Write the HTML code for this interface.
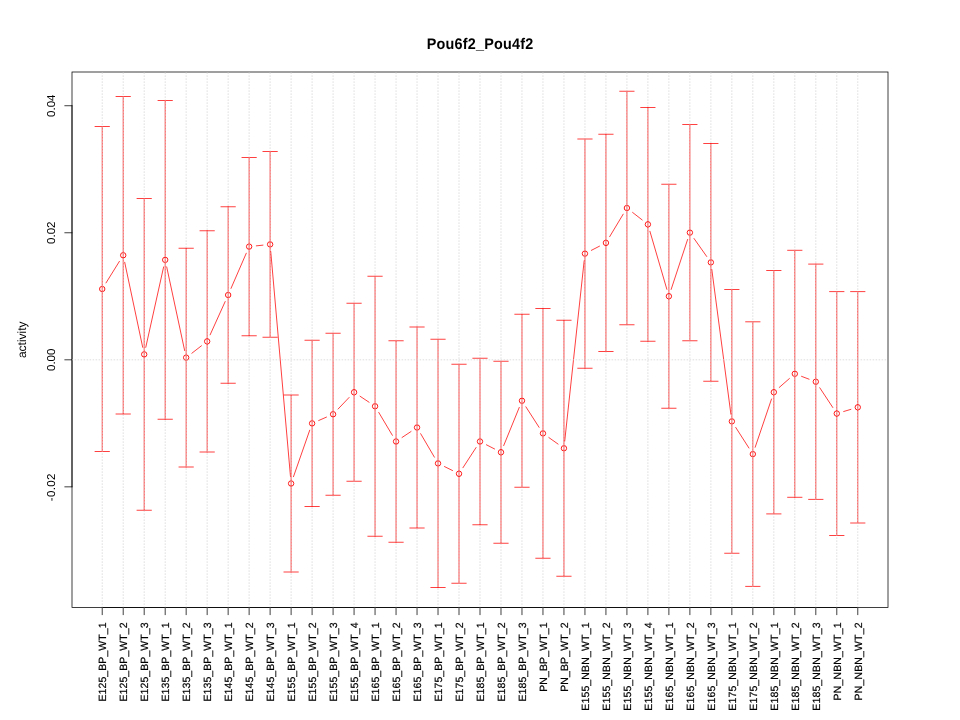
<!DOCTYPE html><html><head><meta charset="utf-8"><style>html,body{margin:0;padding:0;background:#fff;}svg{display:block;will-change:transform;}text{font-family:"Liberation Sans",sans-serif;text-rendering:geometricPrecision;}text.xl{stroke:#000;stroke-width:0.2px;}</style></head><body>
<svg width="960" height="720" viewBox="0 0 960 720">
<rect width="960" height="720" fill="#fff"/>
<path d="M102.22 126.5V451.5M95.02 126.5H109.42M95.02 451.5H109.42M123.21 96.5V414.0M116.01 96.5H130.41M116.01 414.0H130.41M144.20 198.5V510.25M137.00 198.5H151.40M137.00 510.25H151.40M165.19 100.5V419.25M157.99 100.5H172.39M157.99 419.25H172.39M186.17 248.25V467.0M178.97 248.25H193.37M178.97 467.0H193.37M207.16 230.75V452.0M199.96 230.75H214.36M199.96 452.0H214.36M228.15 206.75V383.25M220.95 206.75H235.35M220.95 383.25H235.35M249.14 157.5V335.75M241.94 157.5H256.34M241.94 335.75H256.34M270.12 151.5V337.25M262.92 151.5H277.32M262.92 337.25H277.32M291.11 395.0V572.0M283.91 395.0H298.31M283.91 572.0H298.31M312.10 340.25V506.5M304.90 340.25H319.30M304.90 506.5H319.30M333.09 333.25V495.25M325.89 333.25H340.29M325.89 495.25H340.29M354.07 303.25V481.25M346.87 303.25H361.27M346.87 481.25H361.27M375.06 276.25V536.25M367.86 276.25H382.26M367.86 536.25H382.26M396.05 340.75V542.25M388.85 340.75H403.25M388.85 542.25H403.25M417.04 327.0V528.0M409.84 327.0H424.24M409.84 528.0H424.24M438.02 339.25V587.5M430.82 339.25H445.22M430.82 587.5H445.22M459.01 364.25V583.25M451.81 364.25H466.21M451.81 583.25H466.21M480.00 358.25V524.75M472.80 358.25H487.20M472.80 524.75H487.20M500.99 361.25V543.25M493.79 361.25H508.19M493.79 543.25H508.19M521.98 314.25V487.25M514.78 314.25H529.18M514.78 487.25H529.18M542.96 308.5V558.25M535.76 308.5H550.16M535.76 558.25H550.16M563.95 320.25V576.25M556.75 320.25H571.15M556.75 576.25H571.15M584.94 139.0V368.25M577.74 139.0H592.14M577.74 368.25H592.14M605.93 134.25V351.5M598.73 134.25H613.13M598.73 351.5H613.13M626.91 91.25V324.75M619.71 91.25H634.11M619.71 324.75H634.11M647.90 107.5V341.25M640.70 107.5H655.10M640.70 341.25H655.10M668.89 184.25V408.25M661.69 184.25H676.09M661.69 408.25H676.09M689.88 124.5V340.75M682.68 124.5H697.08M682.68 340.75H697.08M710.86 143.5V381.25M703.66 143.5H718.06M703.66 381.25H718.06M731.85 289.5V553.25M724.65 289.5H739.05M724.65 553.25H739.05M752.84 321.8V586.4M745.64 321.8H760.04M745.64 586.4H760.04M773.83 270.5V513.9M766.63 270.5H781.03M766.63 513.9H781.03M794.81 250.3V497.3M787.61 250.3H802.01M787.61 497.3H802.01M815.80 264.1V499.4M808.60 264.1H823.00M808.60 499.4H823.00M836.79 291.6V535.5M829.59 291.6H843.99M829.59 535.5H843.99M857.78 291.6V523.0M850.58 291.6H864.98M850.58 523.0H864.98" stroke="#f00" stroke-width="0.75" fill="none" stroke-linecap="round"/>
<path d="M106.02 282.89L119.41 261.36M124.70 262.29L142.71 347.33M145.76 347.35L163.62 266.90M166.70 266.91L184.66 350.59M191.87 353.22L201.47 345.78M210.13 334.82L225.18 301.56M231.01 288.39L246.27 253.23M256.29 245.86L262.96 245.14M270.75 251.55L290.48 476.33M293.48 476.70L309.73 430.17M318.70 420.50L326.48 417.12M338.06 409.04L349.10 397.46M360.06 396.25L369.07 402.25M378.75 412.44L392.37 435.31M402.04 437.50L411.05 431.50M420.67 433.71L434.39 457.16M444.48 466.57L452.56 470.56M462.94 467.72L476.07 447.53M486.41 444.78L494.58 448.97M503.70 445.58L519.26 407.42M525.87 406.81L539.07 427.32M548.84 437.54L558.08 444.09M564.72 441.09L584.17 260.78M591.35 250.34L599.52 246.16M609.64 236.71L623.20 214.17M632.59 212.43L642.22 219.95M649.92 231.29L666.87 289.34M671.14 289.41L687.62 239.46M694.03 238.51L706.71 256.49M711.81 269.51L730.91 414.24M735.74 427.44L748.95 448.04M755.15 447.28L771.52 399.02M779.24 387.45L789.40 378.55M801.55 376.35L809.07 379.20M819.77 387.76L832.82 407.54M843.69 411.50L850.88 409.35" stroke="#f00" stroke-width="0.75" fill="none" stroke-linecap="round"/>
<g stroke="#f00" stroke-width="0.9" fill="none"><circle cx="102.22" cy="289.00" r="2.7"/><circle cx="123.21" cy="255.25" r="2.7"/><circle cx="144.20" cy="354.38" r="2.7"/><circle cx="165.19" cy="259.88" r="2.7"/><circle cx="186.17" cy="357.62" r="2.7"/><circle cx="207.16" cy="341.38" r="2.7"/><circle cx="228.15" cy="295.00" r="2.7"/><circle cx="249.14" cy="246.62" r="2.7"/><circle cx="270.12" cy="244.38" r="2.7"/><circle cx="291.11" cy="483.50" r="2.7"/><circle cx="312.10" cy="423.38" r="2.7"/><circle cx="333.09" cy="414.25" r="2.7"/><circle cx="354.07" cy="392.25" r="2.7"/><circle cx="375.06" cy="406.25" r="2.7"/><circle cx="396.05" cy="441.50" r="2.7"/><circle cx="417.04" cy="427.50" r="2.7"/><circle cx="438.02" cy="463.38" r="2.7"/><circle cx="459.01" cy="473.75" r="2.7"/><circle cx="480.00" cy="441.50" r="2.7"/><circle cx="500.99" cy="452.25" r="2.7"/><circle cx="521.98" cy="400.75" r="2.7"/><circle cx="542.96" cy="433.38" r="2.7"/><circle cx="563.95" cy="448.25" r="2.7"/><circle cx="584.94" cy="253.62" r="2.7"/><circle cx="605.93" cy="242.88" r="2.7"/><circle cx="626.91" cy="208.00" r="2.7"/><circle cx="647.90" cy="224.38" r="2.7"/><circle cx="668.89" cy="296.25" r="2.7"/><circle cx="689.88" cy="232.62" r="2.7"/><circle cx="710.86" cy="262.38" r="2.7"/><circle cx="731.85" cy="421.38" r="2.7"/><circle cx="752.84" cy="454.10" r="2.7"/><circle cx="773.83" cy="392.20" r="2.7"/><circle cx="794.81" cy="373.80" r="2.7"/><circle cx="815.80" cy="381.75" r="2.7"/><circle cx="836.79" cy="413.55" r="2.7"/><circle cx="857.78" cy="407.30" r="2.7"/></g>
<rect x="72.0" y="72.0" width="816.0" height="535.5" stroke="#000" stroke-width="0.75" fill="none"/>
<path d="M72.0 105.72V486.84M72.0 105.72H64.8M72.0 232.76H64.8M72.0 359.80H64.8M72.0 486.84H64.8M102.22 607.5H857.78M102.22 607.5V614.7M123.21 607.5V614.7M144.20 607.5V614.7M165.19 607.5V614.7M186.17 607.5V614.7M207.16 607.5V614.7M228.15 607.5V614.7M249.14 607.5V614.7M270.12 607.5V614.7M291.11 607.5V614.7M312.10 607.5V614.7M333.09 607.5V614.7M354.07 607.5V614.7M375.06 607.5V614.7M396.05 607.5V614.7M417.04 607.5V614.7M438.02 607.5V614.7M459.01 607.5V614.7M480.00 607.5V614.7M500.99 607.5V614.7M521.98 607.5V614.7M542.96 607.5V614.7M563.95 607.5V614.7M584.94 607.5V614.7M605.93 607.5V614.7M626.91 607.5V614.7M647.90 607.5V614.7M668.89 607.5V614.7M689.88 607.5V614.7M710.86 607.5V614.7M731.85 607.5V614.7M752.84 607.5V614.7M773.83 607.5V614.7M794.81 607.5V614.7M815.80 607.5V614.7M836.79 607.5V614.7M857.78 607.5V614.7" stroke="#000" stroke-width="0.75" fill="none" stroke-linecap="round"/>
<defs><clipPath id="pr"><rect x="72.0" y="72.0" width="816.0" height="535.5"/></clipPath></defs>
<g clip-path="url(#pr)">
<path d="M102.22 607.5V72.0M123.21 607.5V72.0M144.20 607.5V72.0M165.19 607.5V72.0M186.17 607.5V72.0M207.16 607.5V72.0M228.15 607.5V72.0M249.14 607.5V72.0M270.12 607.5V72.0M291.11 607.5V72.0M312.10 607.5V72.0M333.09 607.5V72.0M354.07 607.5V72.0M375.06 607.5V72.0M396.05 607.5V72.0M417.04 607.5V72.0M438.02 607.5V72.0M459.01 607.5V72.0M480.00 607.5V72.0M500.99 607.5V72.0M521.98 607.5V72.0M542.96 607.5V72.0M563.95 607.5V72.0M584.94 607.5V72.0M605.93 607.5V72.0M626.91 607.5V72.0M647.90 607.5V72.0M668.89 607.5V72.0M689.88 607.5V72.0M710.86 607.5V72.0M731.85 607.5V72.0M752.84 607.5V72.0M773.83 607.5V72.0M794.81 607.5V72.0M815.80 607.5V72.0M836.79 607.5V72.0M857.78 607.5V72.0" stroke="#d3d3d3" stroke-width="0.75" stroke-dasharray="0.75 2.25" stroke-linecap="round" fill="none"/>
<path d="M72.0 359.80H888.0" stroke="#d3d3d3" stroke-width="0.75" stroke-dasharray="0.75 2.25" stroke-linecap="round" fill="none"/>
</g>
<text transform="translate(54.72,105.72) rotate(-90)" text-anchor="middle" font-size="11.5">0.04</text>
<text transform="translate(54.72,232.76) rotate(-90)" text-anchor="middle" font-size="11.5">0.02</text>
<text transform="translate(54.72,359.80) rotate(-90)" text-anchor="middle" font-size="11.5">0.00</text>
<text transform="translate(54.72,487.44) rotate(-90)" text-anchor="middle" font-size="11.5" textLength="27.8">-0.02</text>
<text transform="translate(106.02,622.5) rotate(-90)" class="xl" text-anchor="end" font-size="10.5" textLength="78.97">E125_BP_WT_1</text>
<text transform="translate(127.01,622.5) rotate(-90)" class="xl" text-anchor="end" font-size="10.5" textLength="78.97">E125_BP_WT_2</text>
<text transform="translate(148.00,622.5) rotate(-90)" class="xl" text-anchor="end" font-size="10.5" textLength="78.97">E125_BP_WT_3</text>
<text transform="translate(168.99,622.5) rotate(-90)" class="xl" text-anchor="end" font-size="10.5" textLength="78.97">E135_BP_WT_1</text>
<text transform="translate(189.97,622.5) rotate(-90)" class="xl" text-anchor="end" font-size="10.5" textLength="78.97">E135_BP_WT_2</text>
<text transform="translate(210.96,622.5) rotate(-90)" class="xl" text-anchor="end" font-size="10.5" textLength="78.97">E135_BP_WT_3</text>
<text transform="translate(231.95,622.5) rotate(-90)" class="xl" text-anchor="end" font-size="10.5" textLength="78.97">E145_BP_WT_1</text>
<text transform="translate(252.94,622.5) rotate(-90)" class="xl" text-anchor="end" font-size="10.5" textLength="78.97">E145_BP_WT_2</text>
<text transform="translate(273.92,622.5) rotate(-90)" class="xl" text-anchor="end" font-size="10.5" textLength="78.97">E145_BP_WT_3</text>
<text transform="translate(294.91,622.5) rotate(-90)" class="xl" text-anchor="end" font-size="10.5" textLength="78.97">E155_BP_WT_1</text>
<text transform="translate(315.90,622.5) rotate(-90)" class="xl" text-anchor="end" font-size="10.5" textLength="78.97">E155_BP_WT_2</text>
<text transform="translate(336.89,622.5) rotate(-90)" class="xl" text-anchor="end" font-size="10.5" textLength="78.97">E155_BP_WT_3</text>
<text transform="translate(357.87,622.5) rotate(-90)" class="xl" text-anchor="end" font-size="10.5" textLength="78.97">E155_BP_WT_4</text>
<text transform="translate(378.86,622.5) rotate(-90)" class="xl" text-anchor="end" font-size="10.5" textLength="78.97">E165_BP_WT_1</text>
<text transform="translate(399.85,622.5) rotate(-90)" class="xl" text-anchor="end" font-size="10.5" textLength="78.97">E165_BP_WT_2</text>
<text transform="translate(420.84,622.5) rotate(-90)" class="xl" text-anchor="end" font-size="10.5" textLength="78.97">E165_BP_WT_3</text>
<text transform="translate(441.82,622.5) rotate(-90)" class="xl" text-anchor="end" font-size="10.5" textLength="78.97">E175_BP_WT_1</text>
<text transform="translate(462.81,622.5) rotate(-90)" class="xl" text-anchor="end" font-size="10.5" textLength="78.97">E175_BP_WT_2</text>
<text transform="translate(483.80,622.5) rotate(-90)" class="xl" text-anchor="end" font-size="10.5" textLength="78.97">E185_BP_WT_1</text>
<text transform="translate(504.79,622.5) rotate(-90)" class="xl" text-anchor="end" font-size="10.5" textLength="78.97">E185_BP_WT_2</text>
<text transform="translate(525.78,622.5) rotate(-90)" class="xl" text-anchor="end" font-size="10.5" textLength="78.97">E185_BP_WT_3</text>
<text transform="translate(546.76,622.5) rotate(-90)" class="xl" text-anchor="end" font-size="10.5" textLength="69.28">PN_BP_WT_1</text>
<text transform="translate(567.75,622.5) rotate(-90)" class="xl" text-anchor="end" font-size="10.5" textLength="69.28">PN_BP_WT_2</text>
<text transform="translate(588.74,622.5) rotate(-90)" class="xl" text-anchor="end" font-size="10.5" textLength="88.28">E155_NBN_WT_1</text>
<text transform="translate(609.73,622.5) rotate(-90)" class="xl" text-anchor="end" font-size="10.5" textLength="88.28">E155_NBN_WT_2</text>
<text transform="translate(630.71,622.5) rotate(-90)" class="xl" text-anchor="end" font-size="10.5" textLength="88.28">E155_NBN_WT_3</text>
<text transform="translate(651.70,622.5) rotate(-90)" class="xl" text-anchor="end" font-size="10.5" textLength="88.28">E155_NBN_WT_4</text>
<text transform="translate(672.69,622.5) rotate(-90)" class="xl" text-anchor="end" font-size="10.5" textLength="88.28">E165_NBN_WT_1</text>
<text transform="translate(693.68,622.5) rotate(-90)" class="xl" text-anchor="end" font-size="10.5" textLength="88.28">E165_NBN_WT_2</text>
<text transform="translate(714.66,622.5) rotate(-90)" class="xl" text-anchor="end" font-size="10.5" textLength="88.28">E165_NBN_WT_3</text>
<text transform="translate(735.65,622.5) rotate(-90)" class="xl" text-anchor="end" font-size="10.5" textLength="88.28">E175_NBN_WT_1</text>
<text transform="translate(756.64,622.5) rotate(-90)" class="xl" text-anchor="end" font-size="10.5" textLength="88.28">E175_NBN_WT_2</text>
<text transform="translate(777.63,622.5) rotate(-90)" class="xl" text-anchor="end" font-size="10.5" textLength="88.28">E185_NBN_WT_1</text>
<text transform="translate(798.61,622.5) rotate(-90)" class="xl" text-anchor="end" font-size="10.5" textLength="88.28">E185_NBN_WT_2</text>
<text transform="translate(819.60,622.5) rotate(-90)" class="xl" text-anchor="end" font-size="10.5" textLength="88.28">E185_NBN_WT_3</text>
<text transform="translate(840.59,622.5) rotate(-90)" class="xl" text-anchor="end" font-size="10.5" textLength="77.95">PN_NBN_WT_1</text>
<text transform="translate(861.58,622.5) rotate(-90)" class="xl" text-anchor="end" font-size="10.5" textLength="77.95">PN_NBN_WT_2</text>
<text transform="translate(25.92,339.75) rotate(-90)" text-anchor="middle" font-size="12">activity</text>
<text transform="translate(480,49) scale(1,1.07)" text-anchor="middle" font-size="14.4" font-weight="bold" textLength="106.5" style="stroke:none">Pou6f2_Pou4f2</text>
</svg></body></html>
